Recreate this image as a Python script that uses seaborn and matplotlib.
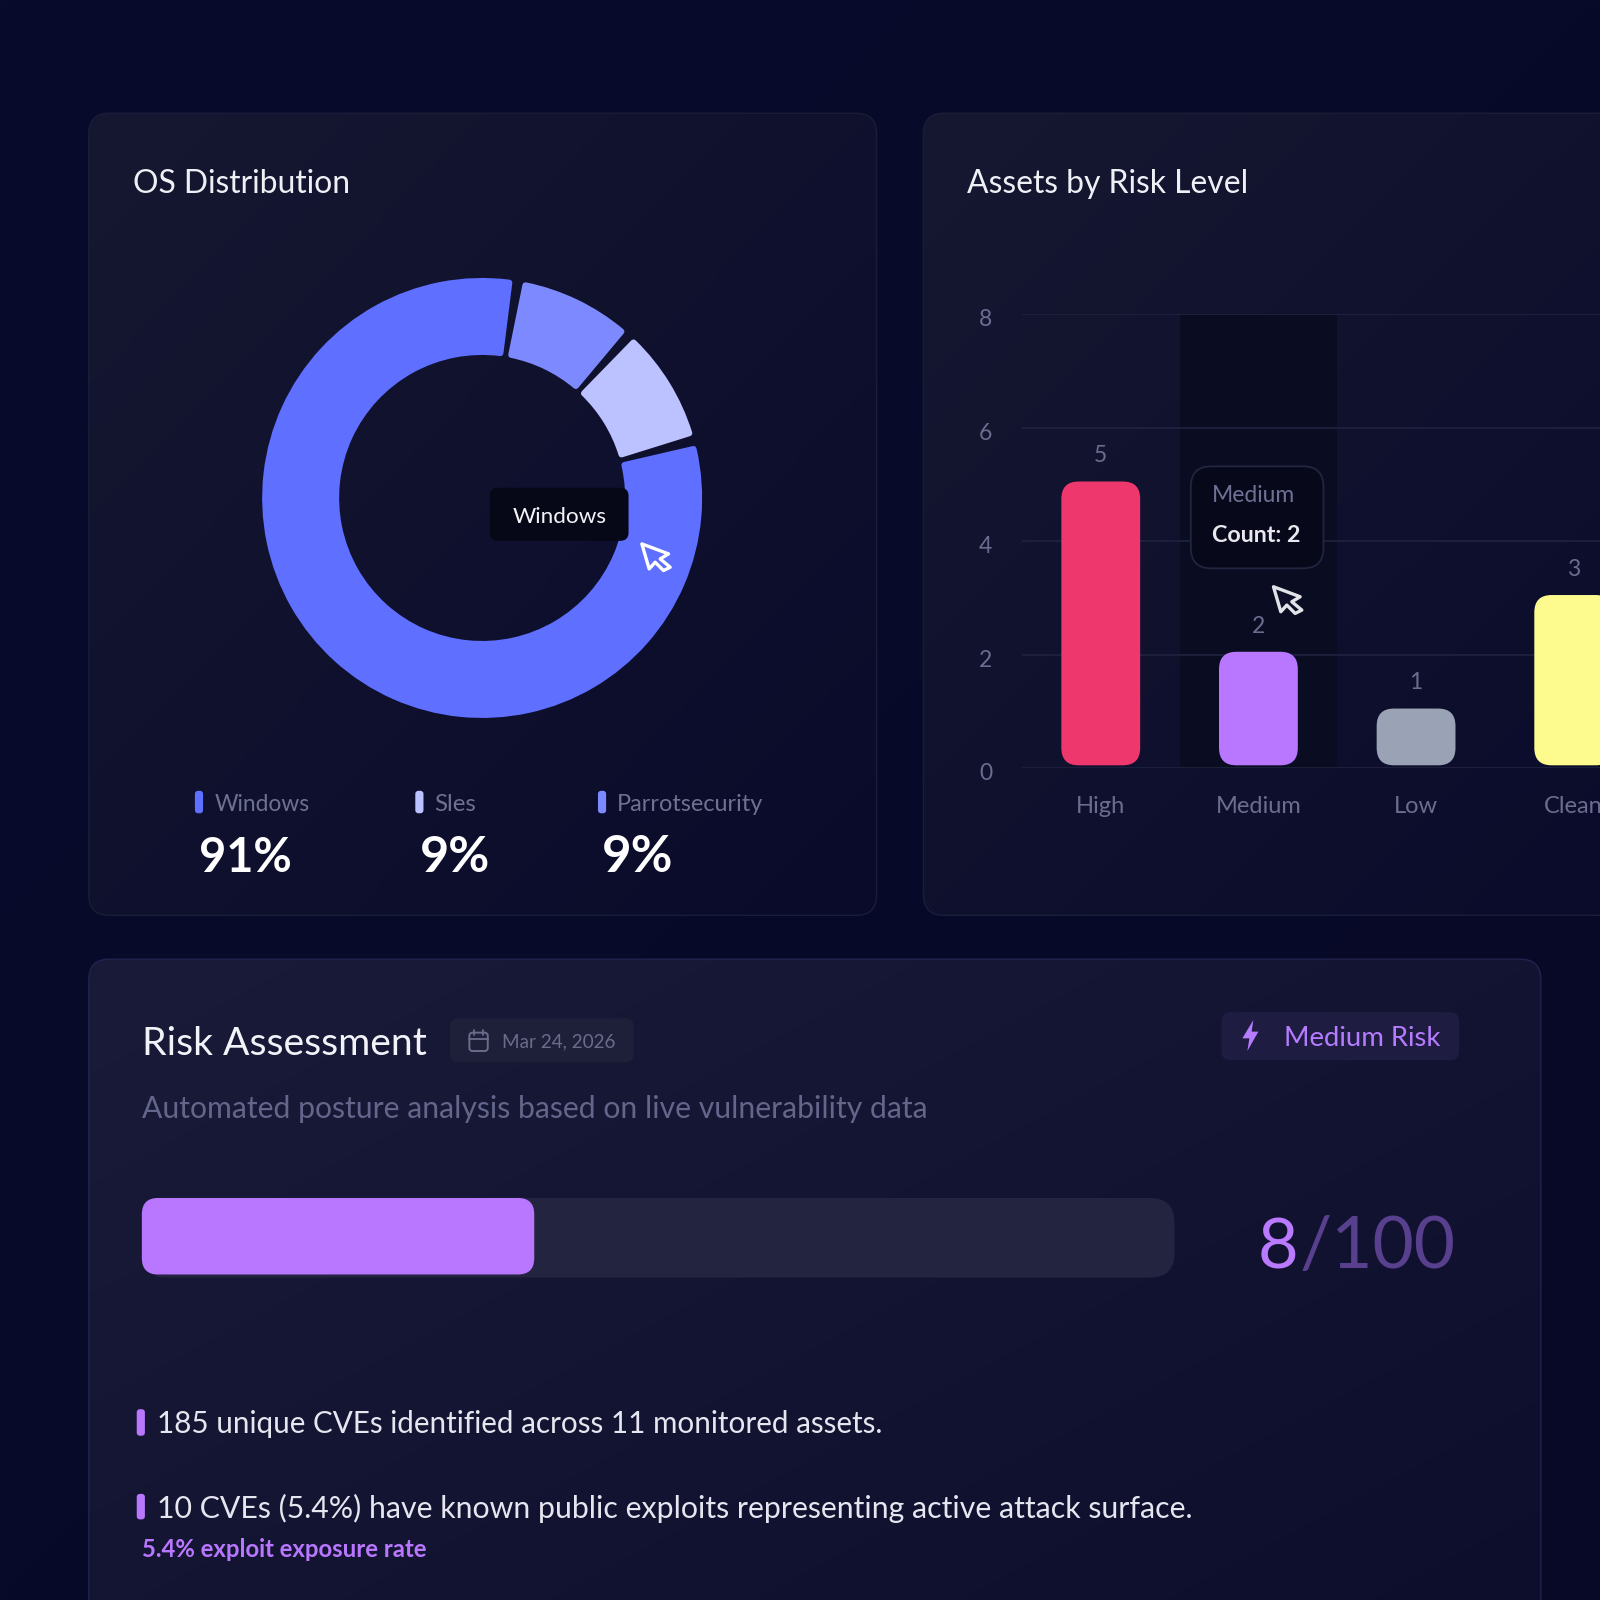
import numpy as np
import pandas as pd
import seaborn as sns
import matplotlib
matplotlib.use("Agg")
import matplotlib.pyplot as plt
from matplotlib.patches import FancyBboxPatch, Polygon
from matplotlib.colors import to_rgb
from matplotlib.transforms import ScaledTranslation

# ---- data -----------------------------------------------------------------
os_slices = ["Windows", "Parrotsecurity", "Sles"]
os_counts = [9, 1, 1]
os_colors = ["#5f6fff", "#7d8aff", "#bcc2ff"]
legend_labels = ["Windows", "Sles", "Parrotsecurity"]
legend_pcts = ["91%", "9%", "9%"]
legend_colors = ["#5f6fff", "#bcc2ff", "#7d8aff"]

risk_levels = ["High", "Medium", "Low", "Clean"]
risk_counts = [5, 2, 1, 3]
risk_colors = ["#ee376d", "#b977ff", "#9aa2b6", "#fdfb8e"]
risk_ticks = [0, 2, 4, 6, 8]

risk_progress_pct = 38
risk_score = "8"
risk_scale = "/100"

# ---- theme ----------------------------------------------------------------
sns.set_theme(style="dark")
FONT = "Lato"
plt.rcParams["font.family"] = [FONT, "DejaVu Sans"]

W = 1568.0                       # working coordinates of the layout
fig = plt.figure(figsize=(16, 16), dpi=100)
fig.patch.set_facecolor("#080a2b")


def layer(z):
    a = fig.add_axes([0, 0, 1, 1], zorder=z)
    a.set_xlim(0, W)
    a.set_ylim(W, 0)
    a.axis("off")
    a.patch.set_alpha(0)
    return a


bg = layer(0)
fg = layer(5)
renderer = fig.canvas.get_renderer()
SCALE = 1600 / W


def gradient(ax, box, c_a, c_b, clip=None, z=1):
    x0, y0, x1, y1 = box
    a, b = np.array(to_rgb(c_a)), np.array(to_rgb(c_b))
    gx, gy = np.meshgrid(np.linspace(0, 1, 128), np.linspace(0, 1, 128))
    t = ((gx + gy) / 2)[..., None]
    im = ax.imshow(a * (1 - t) + b * t, extent=(x0, x1, y1, y0), aspect="auto",
                   zorder=z, interpolation="bilinear")
    if clip is not None:
        im.set_clip_path(clip)
    ax.set_xlim(0, W)
    ax.set_ylim(W, 0)


def rbox(ax, x0, y0, x1, y1, r, fc, ec="none", lw=0, z=2, alpha=None):
    p = FancyBboxPatch((x0, y0), x1 - x0, y1 - y0,
                       boxstyle=f"round,pad=0,rounding_size={r}",
                       fc=fc, ec=ec, lw=lw, zorder=z, alpha=alpha)
    ax.add_patch(p)
    return p


def card(x0, y0, x1, y1, c_a, c_b, edge):
    p = rbox(bg, x0, y0, x1, y1, 20, "none", edge, 1.0, z=3)
    gradient(bg, (x0, y0, x1, y1), c_a, c_b, clip=p, z=2)


def txt(x0, x1, base, s, color, size=None, weight="normal", ax=None):
    ax = ax or fg
    t = ax.text(x0, base, s, color=color, ha="left", va="baseline",
                fontsize=size or 20, fontweight=weight, zorder=10)
    if x1 is not None:
        w = t.get_window_extent(renderer).width
        t.set_fontsize((size or 20) * (x1 - x0) * SCALE / w)
    return t


CURSOR = np.array([(0, 0), (80, 30), (55, 45), (85, 70), (65, 80), (40, 55), (22, 75)]) * 0.327


def cursor(x, y, fc, ec):
    fg.add_patch(Polygon(CURSOR + (x, y), closed=True, fc=fc, ec=ec, lw=2.4,
                         joinstyle="round", zorder=12))


# ---- background and cards --------------------------------------------------
gradient(bg, (0, 0, W, W), "#090b2d", "#070926", z=0)
card(87, 111, 859, 897, "#161730", "#0a0b2b", "#1b1d38")
card(905, 111, 1700, 897, "#161730", "#0a0b2b", "#1b1d38")
card(87, 940, 1510, 1700, "#1a1b38", "#0c0d2b", "#22234e")

# ---- donut -----------------------------------------------------------------
R_OUT, R_IN, STROKE_PX = 220.0, 143.0, 6.0
HALF = 260.0
cx, cy = 472.5, 488.0
frac = 2 * HALF / 1600
ax_d = fig.add_axes([cx / W - frac / 2, 1 - cy / W - frac / 2, frac, frac], zorder=1)
ax_d.patch.set_alpha(0)
wedges, _ = ax_d.pie(os_counts, colors=os_colors, startangle=15.2, counterclock=False,
                     radius=R_OUT - STROKE_PX / 2,
                     wedgeprops=dict(width=R_OUT - R_IN - STROKE_PX))
PAD = 2.15
for w in wedges:
    w.set_theta1(w.theta1 + PAD)
    w.set_theta2(w.theta2 - PAD)
    w.set_edgecolor(w.get_facecolor())
    w.set_linewidth(STROKE_PX * 0.72)
    w.set_joinstyle("round")
ax_d.set_xlim(-HALF, HALF)
ax_d.set_ylim(-HALF, HALF)
ax_d.set_aspect("equal")
ax_d.axis("off")

txt(130, 344, 189.5, "OS Distribution", "#eef0f6")
rbox(fg, 480, 478, 616, 530, 8, "#060818", z=8)
txt(502, 594, 513, "Windows", "#f4f4f8")
cursor(629, 533, "#5f6fff", "#ffffff")

# legend
leg_x = [191, 407, 586]
leg_right = [303, 467, 749]
val_right = [286, 480, 660]
for i, lab in enumerate(legend_labels):
    x = leg_x[i]
    rbox(fg, x, 775, x + 8, 797, 3, legend_colors[i])
    txt(x + 19, leg_right[i], 795, lab, "#6e7192")
    txt(x + 4, val_right[i], 855, legend_pcts[i], "#ffffff", weight="bold")

# ---- bar chart -------------------------------------------------------------
BAND = 154.5
BX0, BY8, BY0 = 1001.5, 308.0, 753.0
ax_b = fig.add_axes([BX0 / W, 1 - BY0 / W, 4 * BAND / W, (BY0 - BY8) / W], zorder=2)
ax_b.patch.set_alpha(0)
df = pd.DataFrame({"level": risk_levels, "count": risk_counts})
sns.barplot(data=df, x="level", y="count", hue="level", palette=risk_colors,
            width=0.5, legend=False, ax=ax_b, saturation=1)
ax_b.set_xlim(-0.5, 3.5)
ax_b.set_ylim(0, 8)
unit_y = (BY0 - BY8) / 8
asp = BAND / unit_y
inset = 3 / unit_y
for p in list(ax_b.patches):
    x, w, h, col = p.get_x(), p.get_width(), p.get_height(), p.get_facecolor()
    p.remove()
    ax_b.add_patch(FancyBboxPatch((x, inset), w, h,
                                  boxstyle=f"round,pad=0,rounding_size={17 / BAND}",
                                  mutation_aspect=asp, fc=col, ec="none", zorder=3))
ax_b.axvspan(0.5, 1.5, color="#0a0c22", lw=0, zorder=0.5)
ax_b.set_yticks(risk_ticks)
ax_b.grid(axis="y", color="#1f2340", lw=1.2)
ax_b.grid(axis="x", visible=False)
ax_b.set_axisbelow(True)
for s in ax_b.spines.values():
    s.set_visible(False)
ax_b.set_xlabel("")
ax_b.set_ylabel("")
ax_b.tick_params(axis="y", length=0, pad=21.5, labelsize=16.5, labelcolor="#6b6d90")
ax_b.tick_params(axis="x", length=0, pad=20, labelsize=17, labelcolor="#6b6d90")
shift = ScaledTranslation(0, -3.6 / 100, fig.dpi_scale_trans)
for lab in ax_b.get_yticklabels():
    lab.set_transform(lab.get_transform() + shift)
for i, v in enumerate(risk_counts):
    ax_b.annotate(str(v), (i, v), xytext=(0, 16), textcoords="offset points",
                  ha="center", va="baseline", color="#6b6d90", fontsize=16.5)

txt(948, 1225, 189.5, "Assets by Risk Level", "#eef0f6")
rbox(fg, 1167, 457, 1297, 557, 20, "#07091a", "#22253f", 1.3, z=8)
txt(1188, 1270, 492, "Medium", "#6e7096")
txt(1188, 1275, 531, "Count: 2", "#e8e8ee", weight="bold")
cursor(1248, 575, "#0d0f28", "#e2e3e8")

# ---- risk assessment -------------------------------------------------------
txt(139, 418, 1034, "Risk Assessment", "#f2f3f8")
rbox(fg, 441, 998, 621, 1041, 8, "#1e2039")
rbox(fg, 460, 1012, 478, 1030, 3, "none", "#6a6c8c", 1.4)
fg.plot([460, 478], [1018, 1018], color="#6a6c8c", lw=1.3, zorder=9)
fg.plot([465, 465], [1009, 1014], color="#6a6c8c", lw=1.3, zorder=9)
fg.plot([473, 473], [1009, 1014], color="#6a6c8c", lw=1.3, zorder=9)
txt(492, 603, 1026, "Mar 24, 2026", "#6a6c8c")
txt(139, 910, 1096, "Automated posture analysis based on live vulnerability data", "#63658a")

rbox(fg, 1197, 992, 1430, 1039, 9, "#1f1c42")
fg.add_patch(Polygon([(1228.3, 999.6), (1217.5, 1017.6), (1224.4, 1017.6), (1222.4, 1030),
                      (1233.2, 1011), (1226.6, 1011)], closed=True, fc="#b57cff", ec="none", zorder=9))
txt(1258, 1412, 1025, "Medium Risk", "#b57cff")

TX0, TX1 = 139, 1151
rbox(fg, TX0, 1174, TX1, 1252, 24, "#23243f")
rbox(fg, TX0, 1174, TX0 + (TX1 - TX0) * risk_progress_pct / 100, 1249, 16, "#b977ff", z=3)
txt(1232, 1272, 1243, risk_score, "#b97aff")
txt(1274, 1427, 1243, risk_scale, "#58408f")

rbox(fg, 134, 1381, 142, 1407, 3, "#b977ff")
txt(154, 865, 1404, "185 unique CVEs identified across 11 monitored assets.", "#e6e6f0")
rbox(fg, 134, 1464, 142, 1489, 3, "#b977ff")
txt(154, 1171, 1487.5, "10 CVEs (5.4%) have known public exploits representing active attack surface.", "#e6e6f0")
txt(139, 418, 1526, "5.4% exploit exposure rate", "#b977ff", weight="bold")

fig.savefig("out.png", dpi=100, facecolor=fig.get_facecolor())
